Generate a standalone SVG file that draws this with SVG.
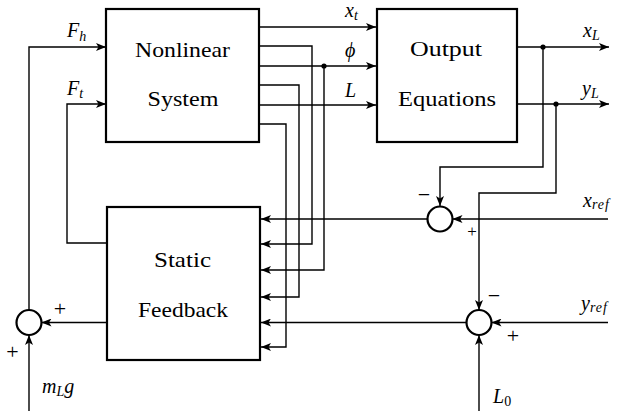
<svg xmlns="http://www.w3.org/2000/svg" width="621" height="411" viewBox="0 0 621 411">
<defs>
<marker id="a" markerUnits="userSpaceOnUse" markerWidth="10" markerHeight="8" viewBox="0 0 10 8" refX="10" refY="4" orient="auto">
<path d="M0,0 L10,4 L0,8 L2.5,4 z" fill="#000"/>
</marker>
</defs>
<rect x="0" y="0" width="621" height="411" fill="#fff"/>

<g id="connectors" fill="none" stroke="#000" stroke-width="1.4">
<path d="M259,27 H376" marker-end="url(#a)"/>
<path d="M259,66 H376" marker-end="url(#a)"/>
<path d="M259,105 H376" marker-end="url(#a)"/>
<path d="M259,46 H312 V244 H261" marker-end="url(#a)"/>
<path d="M324,66 V270 H261" marker-end="url(#a)"/>
<path d="M259,85 H299 V297 H261" marker-end="url(#a)"/>
<path d="M259,124 H286 V347 H261" marker-end="url(#a)"/>
<path d="M517,47 H609" marker-end="url(#a)"/>
<path d="M517,104 H609" marker-end="url(#a)"/>
<path d="M543,47 V167 H440 V206" marker-end="url(#a)"/>
<path d="M556,104 V193 H479 V310" marker-end="url(#a)"/>
<path d="M608,219 H452.5" marker-end="url(#a)"/>
<path d="M427.5,219 H261" marker-end="url(#a)"/>
<path d="M608,322.5 H491.5" marker-end="url(#a)"/>
<path d="M466.5,322.5 H261" marker-end="url(#a)"/>
<path d="M479,411 V335" marker-end="url(#a)"/>
<path d="M107,322.5 H41.5" marker-end="url(#a)"/>
<path d="M29,411 V335" marker-end="url(#a)"/>
<path d="M29,310 V47 H106" marker-end="url(#a)"/>
<path d="M107,243 H67 V104 H106" marker-end="url(#a)"/>
<circle cx="324" cy="66" r="2.6" fill="#000" stroke="none"/>
<circle cx="543" cy="47" r="2.6" fill="#000" stroke="none"/>
<circle cx="556" cy="104" r="2.6" fill="#000" stroke="none"/>
</g>

<g id="nonlinear-system" font-family="Liberation Serif" font-size="21" text-anchor="middle">
<rect x="106" y="9" width="153" height="133" fill="#fff" stroke="#000" stroke-width="2.2"/>
<text x="182.5" y="57" style="font-family:'Liberation Serif',serif" textLength="95" lengthAdjust="spacingAndGlyphs">Nonlinear</text>
<text x="183" y="106" style="font-family:'Liberation Serif',serif" textLength="71" lengthAdjust="spacingAndGlyphs">System</text>
</g>

<g id="output-equations" font-family="Liberation Serif" font-size="21" text-anchor="middle">
<rect x="377" y="9" width="140" height="133" fill="#fff" stroke="#000" stroke-width="2.2"/>
<text x="446" y="56" style="font-family:'Liberation Serif',serif" textLength="72" lengthAdjust="spacingAndGlyphs">Output</text>
<text x="447" y="106" style="font-family:'Liberation Serif',serif" textLength="98" lengthAdjust="spacingAndGlyphs">Equations</text>
</g>

<g id="static-feedback" font-family="Liberation Serif" font-size="21" text-anchor="middle">
<rect x="107" y="207" width="153" height="153" fill="#fff" stroke="#000" stroke-width="2.2"/>
<text x="182.5" y="267" style="font-family:'Liberation Serif',serif" textLength="57" lengthAdjust="spacingAndGlyphs">Static</text>
<text x="183" y="317" style="font-family:'Liberation Serif',serif" textLength="90" lengthAdjust="spacingAndGlyphs">Feedback</text>
</g>

<g id="sum-x" font-family="Liberation Serif" font-size="22" text-anchor="middle">
<circle cx="440" cy="219" r="12.5" fill="#fff" stroke="#000" stroke-width="2.2"/>
<text x="424" y="202" style="font-family:'Liberation Serif',serif">&#8722;</text>
<text x="472" y="237" font-size="17" style="font-family:'Liberation Serif',serif">+</text>
</g>

<g id="sum-y" font-family="Liberation Serif" font-size="22" text-anchor="middle">
<circle cx="479" cy="322.5" r="12.5" fill="#fff" stroke="#000" stroke-width="2.2"/>
<text x="494" y="303" style="font-family:'Liberation Serif',serif">&#8722;</text>
<text x="513" y="343" style="font-family:'Liberation Serif',serif">+</text>
</g>

<g id="sum-f" font-family="Liberation Serif" font-size="22" text-anchor="middle">
<circle cx="29" cy="322.5" r="12.5" fill="#fff" stroke="#000" stroke-width="2.2"/>
<text x="60" y="316" style="font-family:'Liberation Serif',serif">+</text>
<text x="12.5" y="359" style="font-family:'Liberation Serif',serif">+</text>
</g>

<g id="labels" font-family="Liberation Serif" font-size="20" font-style="italic">
<text x="67" y="37" style="font-family:'Liberation Serif',serif">F<tspan font-size="14" dy="4">h</tspan></text>
<text x="67" y="95" style="font-family:'Liberation Serif',serif">F<tspan font-size="14" dy="3">t</tspan></text>
<text x="345" y="17" style="font-family:'Liberation Serif',serif">x<tspan font-size="14" dy="3">t</tspan></text>
<text x="345" y="57" style="font-family:'Liberation Serif',serif">&#981;</text>
<text x="345" y="97" style="font-family:'Liberation Serif',serif">L</text>
<text x="583" y="37" style="font-family:'Liberation Serif',serif">x<tspan font-size="14" dy="3">L</tspan></text>
<text x="582" y="95" style="font-family:'Liberation Serif',serif">y<tspan font-size="14" dy="3">L</tspan></text>
<text x="583" y="207" style="font-family:'Liberation Serif',serif">x<tspan font-size="14" dy="2" letter-spacing="1">ref</tspan></text>
<text x="581" y="310" style="font-family:'Liberation Serif',serif">y<tspan font-size="14" dy="2" letter-spacing="1">ref</tspan></text>
<text x="42" y="393" style="font-family:'Liberation Serif',serif">m<tspan font-size="14" dy="3">L</tspan><tspan dy="-3">g</tspan></text>
<text x="493" y="403" style="font-family:'Liberation Serif',serif">L<tspan font-size="14" dy="3" font-style="normal">0</tspan></text>
</g>
</svg>
